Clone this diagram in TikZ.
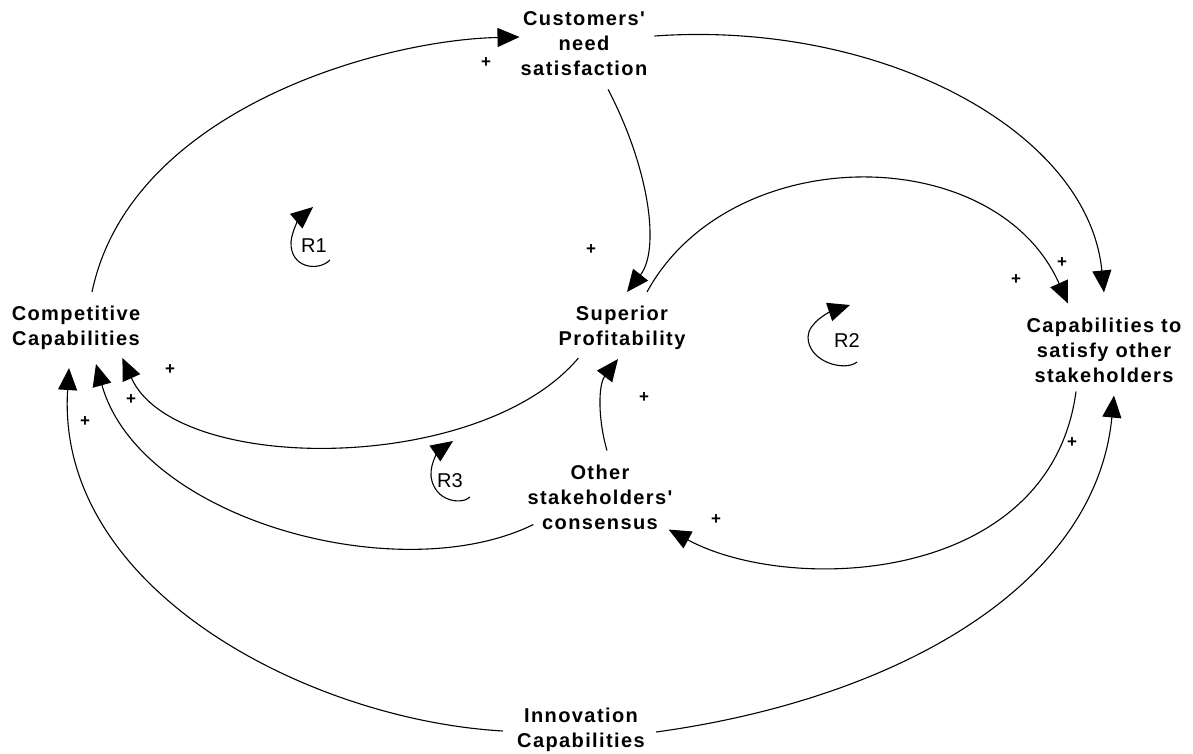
\documentclass[tikz,border=0pt]{standalone}
\usepackage{fontspec}
\setmainfont{Liberation Sans}
\newfontfamily\varfont[LetterSpace=7]{Liberation Sans}
\usepackage{tikz}
\usetikzlibrary{arrows.meta}

\begin{document}
\begin{tikzpicture}[x=1pt,y=-1pt,>={Triangle[length=22pt,width=19pt]},
 var/.style={align=center,inner sep=0pt,font=\varfont\bfseries\fontsize{20}{25}\selectfont},
 sgn/.style={inner sep=0pt,font=\bfseries\fontsize{17}{17}\selectfont},
 loopname/.style={inner sep=0pt,font=\fontsize{20}{24}\selectfont},
 link/.style={->,line width=1.1pt},
 turn/.style={-{Triangle[length=22pt,width=19pt]},line width=1.1pt}]
\useasboundingbox (0,0) rectangle (1193,753);
\node[var] (cust) at (584,44) {Customers'\\need\\satisfaction};
\node[var] (comp) at (76,328) {Competitive\\Capabilities};
\node[var] (sup) at (622,328) {Superior\\Profitability};
\node[var] (other) at (600,497) {Other\\stakeholders'\\consensus};
\node[var] (cap) at (1104,350) {Capabilities to\\satisfy other\\stakeholders};
\node[var] (innov) at (581,730) {Innovation\\Capabilities};
\draw[link] ([shift={(16,-14)}]comp.north) .. controls (130,110) and (380,40) .. ([shift={(-1,-7)}]cust.west);
\draw[link] ([shift={(7,-8)}]cust.east) .. controls (880,20) and (1088,130) .. ([shift={(0,-25)}]cap.north);
\draw[link] ([shift={(24,13)}]cust.south) .. controls (650,170) and (660,250) .. ([shift={(5,-14)}]sup.north);
\draw[link] ([shift={(25,-14)}]sup.north) .. controls (730,140) and (995,140) .. ([shift={(-36,-14)}]cap.north);
\draw[link] ([shift={(20,8)}]sup.south west) .. controls (480,475) and (175,475) .. ([shift={(-18,8)}]comp.south east);
\draw[link] ([shift={(6,-5)}]other.south west) .. controls (400,590) and (140,520) .. ([shift={(20,14)}]comp.south);
\draw[link] ([shift={(-14,1)}]innov.west) .. controls (310,720) and (55,590) .. ([shift={(-7,18)}]comp.south);
\draw[link] ([shift={(11,2)}]innov.east) .. controls (890,700) and (1095,590) .. ([shift={(10,13)}]cap.south);
\draw[link] ([shift={(-28,9)}]cap.south) .. controls (1050,585) and (790,595) .. ([shift={(-4,0)}]other.south east);
\draw[link] ([shift={(7,-14)}]other.north) .. controls (598,420) and (598,385) .. ([shift={(-4,9)}]sup.south);
\node[sgn] (s1) at (486,63) {+};
\node[sgn] (s2) at (591,250) {+};
\node[sgn] (s3) at (1016,280) {+};
\node[sgn] (s4) at (1062,263) {+};
\node[sgn] (s5) at (170,370) {+};
\node[sgn] (s6) at (131,400) {+};
\node[sgn] (s7) at (85,422) {+};
\node[sgn] (s8) at (644,398) {+};
\node[sgn] (s9) at (1072,443) {+};
\node[sgn] (s10) at (716,520) {+};
\node[loopname] (r1) at (314,246) {R1};
\node[loopname] (r2) at (847,341) {R2};
\node[loopname] (r3) at (450,481) {R3};
\draw[turn] (330,260) .. controls (318,272) and (290,268) .. (291,242) .. controls (292,230) and (300,218) .. (313,207);
\draw[turn] (857,362) .. controls (845,372) and (808,362) .. (808,337) .. controls (808,322) and (832,311) .. (850,305);
\draw[turn] (470,497) .. controls (462,505) and (434,502) .. (431,476) .. controls (430,462) and (440,450) .. (453,441);
\end{tikzpicture}
\end{document}
